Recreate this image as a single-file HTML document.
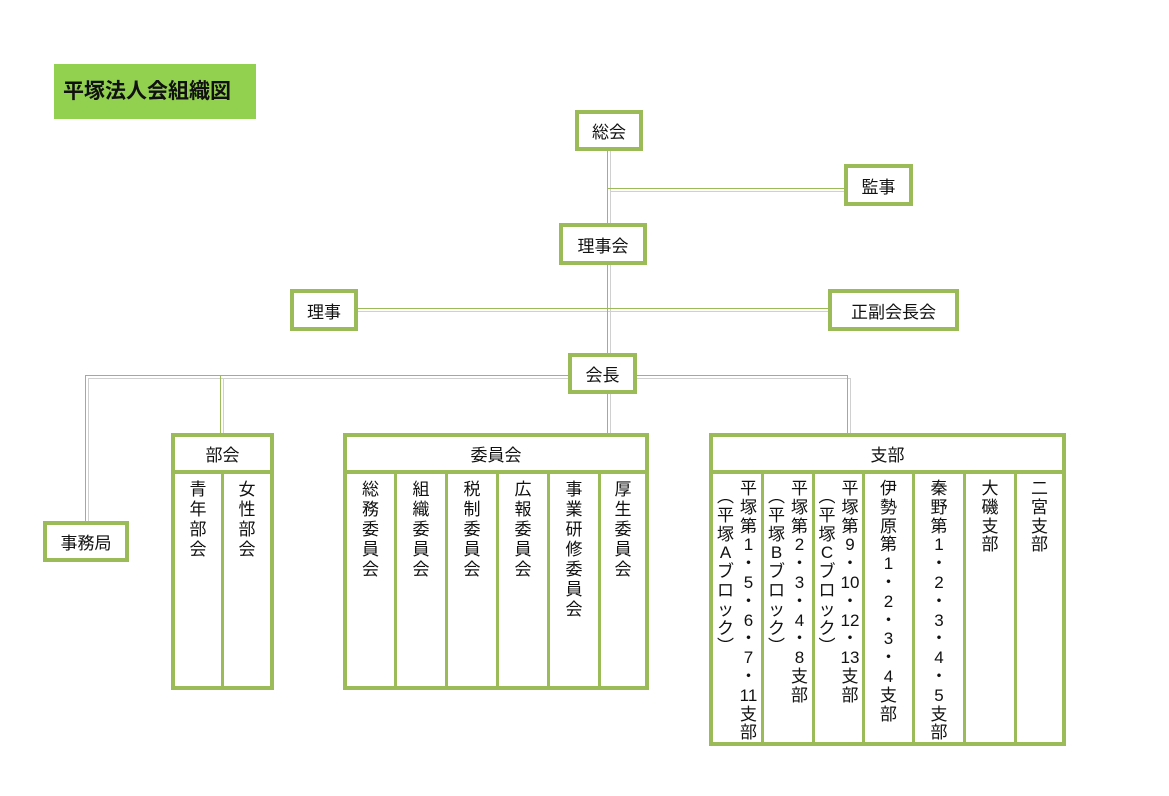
<!DOCTYPE html>
<html><head><meta charset="utf-8"><style>
body{margin:0;background:#fff;}
#c{position:relative;width:1169px;height:796px;overflow:hidden;font-family:"Liberation Sans","Noto Sans CJK JP",sans-serif;color:#111;}
.b{position:absolute;box-sizing:border-box;border:4px solid #9bbb59;background:#fff;display:flex;align-items:center;justify-content:center;font-size:17px;}
.l{position:absolute;background:#9bbb59;}
.g{position:absolute;background:#d0d0d0;}
.col{position:absolute;box-sizing:border-box;border:3px solid #9bbb59;background:#fff;font-size:17px;line-height:20px;text-align:center;padding-top:6px;display:flex;justify-content:center;gap:2px;}
.col span{display:block;width:21px;}
.s{line-height:18.8px;}
</style></head><body><div id="c">
<div style="position:absolute;left:54px;top:64px;width:202px;height:55px;background:#92d050;font-weight:bold;font-size:21px;line-height:55px;box-sizing:border-box;padding-left:9px;">平塚法人会組織図</div>

<div class="g" style="left:610px;top:150px;width:1px;height:283px"></div>
<div class="g" style="left:610px;top:191px;width:234px;height:1px"></div>
<div class="g" style="left:358px;top:311px;width:470px;height:1px"></div>
<div class="g" style="left:88px;top:378px;width:762px;height:1px"></div>
<div class="g" style="left:88px;top:378px;width:1px;height:143px"></div>
<div class="g" style="left:223px;top:378px;width:1px;height:55px"></div>
<div class="g" style="left:850px;top:378px;width:1px;height:55px"></div>
<div class="l" style="left:607px;top:150px;width:1px;height:283px"></div>
<div class="l" style="left:607px;top:188px;width:237px;height:1px"></div>
<div class="l" style="left:358px;top:308px;width:470px;height:1px"></div>
<div class="l" style="left:85px;top:375px;width:762px;height:1px"></div>
<div class="l" style="left:85px;top:375px;width:1px;height:146px"></div>
<div class="l" style="left:220px;top:375px;width:1px;height:58px"></div>
<div class="l" style="left:847px;top:375px;width:1px;height:58px"></div>

<div class="b" style="left:575px;top:110px;width:68px;height:41px">総会</div>
<div class="b" style="left:844px;top:164px;width:69px;height:42px">監事</div>
<div class="b" style="left:559px;top:223px;width:88px;height:42px">理事会</div>
<div class="b" style="left:290px;top:289px;width:68px;height:42px">理事</div>
<div class="b" style="left:828px;top:289px;width:131px;height:42px">正副会長会</div>
<div class="b" style="left:568px;top:353px;width:69px;height:41px">会長</div>
<div class="b" style="left:43px;top:521px;width:86px;height:41px">事務局</div>

<div class="b" style="left:171px;top:433px;width:103px;height:41px">部会</div>
<div class="col" style="left:171px;top:474px;width:53px;height:216px;border-width:0 3px 4px 4px"><span>青<br>年<br>部<br>会</span></div>
<div class="col" style="left:221px;top:474px;width:53px;height:216px;border-width:0 4px 4px 3px"><span>女<br>性<br>部<br>会</span></div>

<div class="b" style="left:343px;top:433px;width:306px;height:41px">委員会</div>
<div class="col" style="left:343px;top:474px;width:54px;height:216px;border-width:0 3px 4px 4px"><span>総<br>務<br>委<br>員<br>会</span></div>
<div class="col" style="left:394px;top:474px;width:54px;height:216px;border-width:0 3px 4px 3px"><span>組<br>織<br>委<br>員<br>会</span></div>
<div class="col" style="left:445px;top:474px;width:54px;height:216px;border-width:0 3px 4px 3px"><span>税<br>制<br>委<br>員<br>会</span></div>
<div class="col" style="left:496px;top:474px;width:54px;height:216px;border-width:0 3px 4px 3px"><span>広<br>報<br>委<br>員<br>会</span></div>
<div class="col" style="left:547px;top:474px;width:54px;height:216px;border-width:0 3px 4px 3px"><span>事<br>業<br>研<br>修<br>委<br>員<br>会</span></div>
<div class="col" style="left:598px;top:474px;width:51px;height:216px;border-width:0 4px 4px 3px"><span>厚<br>生<br>委<br>員<br>会</span></div>

<div class="b" style="left:709px;top:433px;width:357px;height:41px">支部</div>
<div class="col s" style="left:709px;top:474px;width:55px;height:272px;border-width:0 3px 4px 4px"><span style="padding-top:8px">︵<br>平<br>塚<br>A<br>ブ<br>ロ<br>ッ<br>ク<br>︶</span><span>平<br>塚<br>第<br>1<br>・<br>5<br>・<br>6<br>・<br>7<br>・<br>11<br>支<br>部</span></div>
<div class="col s" style="left:761px;top:474px;width:54px;height:272px;border-width:0 3px 4px 3px"><span style="padding-top:8px">︵<br>平<br>塚<br>B<br>ブ<br>ロ<br>ッ<br>ク<br>︶</span><span>平<br>塚<br>第<br>2<br>・<br>3<br>・<br>4<br>・<br>8<br>支<br>部</span></div>
<div class="col s" style="left:812px;top:474px;width:53px;height:272px;border-width:0 3px 4px 3px"><span style="padding-top:8px">︵<br>平<br>塚<br>C<br>ブ<br>ロ<br>ッ<br>ク<br>︶</span><span>平<br>塚<br>第<br>9<br>・<br>10<br>・<br>12<br>・<br>13<br>支<br>部</span></div>
<div class="col s" style="left:862px;top:474px;width:53px;height:272px;border-width:0 3px 4px 3px"><span>伊<br>勢<br>原<br>第<br>1<br>・<br>2<br>・<br>3<br>・<br>4<br>支<br>部</span></div>
<div class="col s" style="left:912px;top:474px;width:54px;height:272px;border-width:0 3px 4px 3px"><span>秦<br>野<br>第<br>1<br>・<br>2<br>・<br>3<br>・<br>4<br>・<br>5<br>支<br>部</span></div>
<div class="col s" style="left:963px;top:474px;width:54px;height:272px;border-width:0 3px 4px 3px"><span>大<br>磯<br>支<br>部</span></div>
<div class="col s" style="left:1014px;top:474px;width:52px;height:272px;border-width:0 4px 4px 3px"><span>二<br>宮<br>支<br>部</span></div>
</div></body></html>
